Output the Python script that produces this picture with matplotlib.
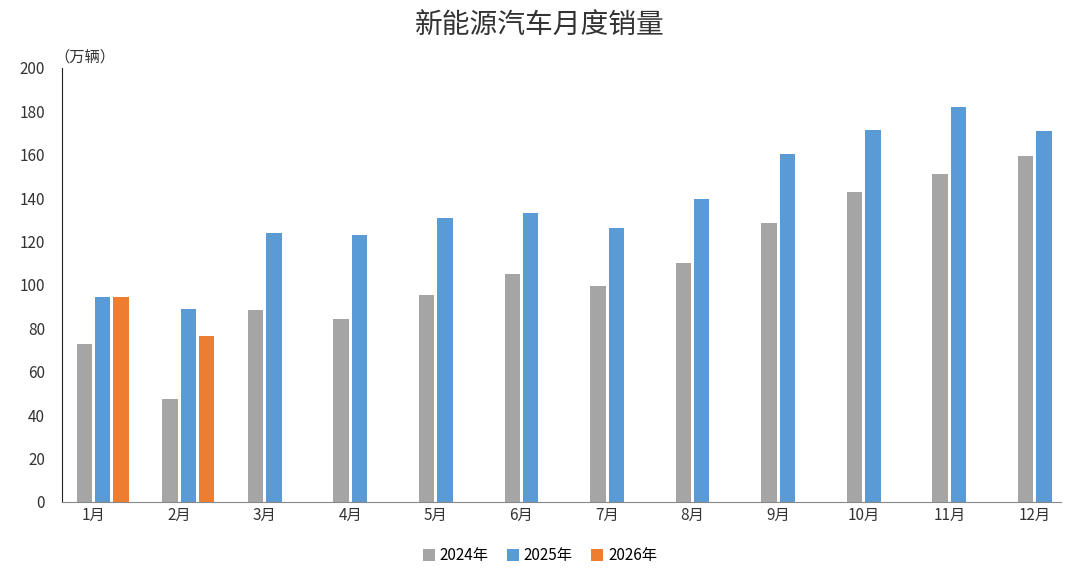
import numpy as np
import matplotlib.pyplot as plt

plt.rcParams['font.family'] = ['Noto Sans CJK SC', 'DejaVu Sans']

months = ['1月', '2月', '3月', '4月', '5月', '6月', '7月', '8月', '9月', '10月', '11月', '12月']
sales_2024 = [73, 47.5, 88.5, 84.5, 95.5, 105, 99.5, 110, 128.5, 143, 151, 159.5]
sales_2025 = [94.5, 89, 124, 123, 131, 133, 126, 139.5, 160.5, 171.5, 182, 171]
sales_2026 = [94.5, 76.5]

fig = plt.figure(figsize=(10.8, 5.75), dpi=100)
ax = fig.add_axes([0.057, 0.127, 0.925, 0.755])

x = np.arange(len(months))
w = 0.18
off = 0.215
ax.bar(x - off / 2, sales_2024, w, color='#A5A5A5', label='2024年')
ax.bar(x + off / 2, sales_2025, w, color='#5B9BD5', label='2025年')
ax.bar(x[:len(sales_2026)] + off * 1.5, sales_2026, w, color='#ED7D31', label='2026年')

ax.set_xlim(-0.374, 11.3)
ax.set_ylim(0, 200)
ax.set_yticks(range(0, 201, 20))
ax.set_xticks(x)
ax.set_xticklabels(months)
ax.tick_params(length=0, labelsize=11, colors='#333333')
ax.tick_params(axis='y', pad=12)
for s in ['top', 'right']:
    ax.spines[s].set_visible(False)
ax.spines['left'].set_color('#222222')
ax.spines['bottom'].set_color('#888888')

fig.text(0.5, 0.955, '新能源汽车月度销量', ha='center', va='center', fontsize=20, color='#333333')
fig.text(0.05, 0.9, '（万辆）', ha='left', va='center', fontsize=11, color='#333333')
fig.legend(loc='lower center', ncol=3, frameon=False, bbox_to_anchor=(0.5, -0.005),
           fontsize=11, handlelength=0.8, handleheight=0.8, columnspacing=1.2, handletextpad=0.3)

fig.savefig('out.png')
